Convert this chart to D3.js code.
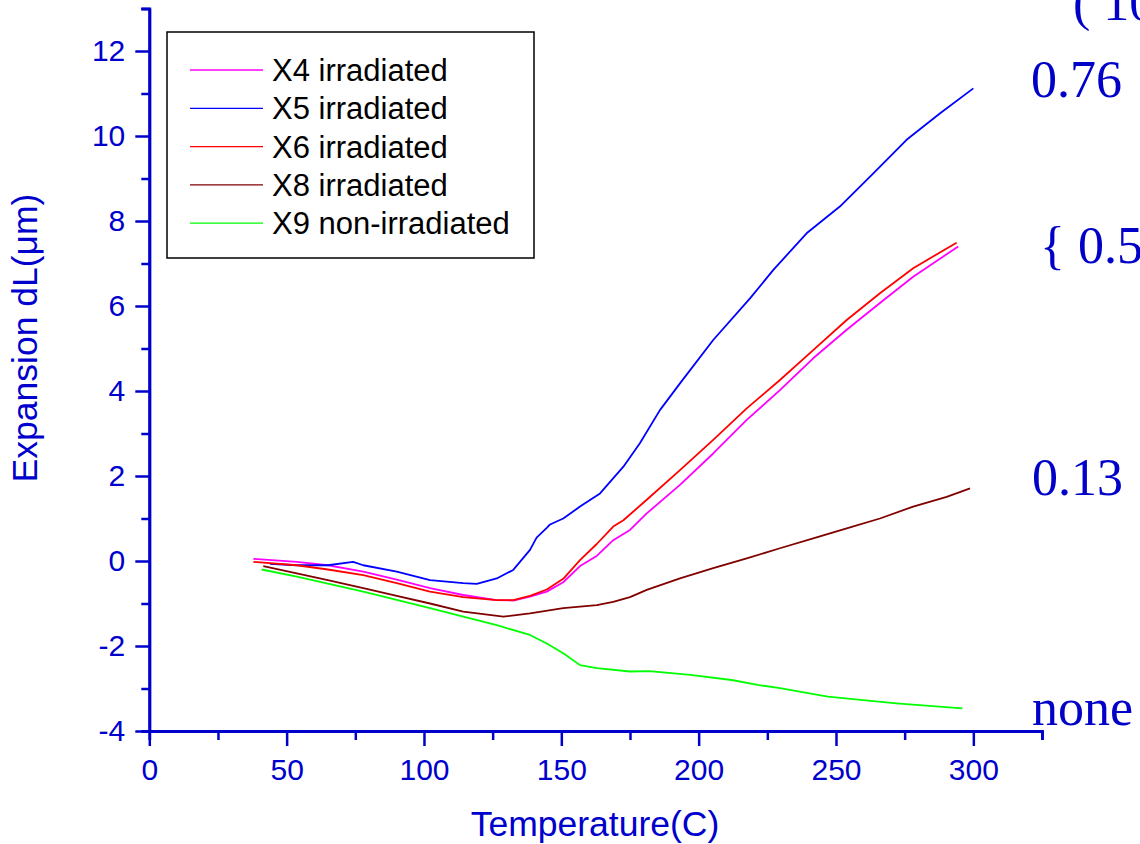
<!DOCTYPE html>
<html>
<head>
<meta charset="utf-8">
<script src="https://cdn.jsdelivr.net/npm/d3@7"></script>
<style>
  html, body { margin: 0; padding: 0; background: #fff; overflow: hidden; }
  svg { display: block; }
</style>
</head>
<body>
<svg id="chart" width="1140" height="844"></svg>
<script>
// Thermal expansion dL (µm) versus temperature (°C) for several samples.

const seriesNames = ["X4 irradiated", "X5 irradiated", "X6 irradiated", "X8 irradiated", "X9 non-irradiated"];
const seriesColors = ["#ff00ff", "#0000ff", "#ff0000", "#800000", "#00ff00"];

// [temperature, expansion]
const x4 = [
  [37.9, 0.05], [53.7, -0.02], [65, -0.1], [77.9, -0.25], [90.1, -0.44], [102.2, -0.64],
  [114.3, -0.8], [126.5, -0.92], [132.5, -0.93], [138.6, -0.84], [144.7, -0.72], [150.7, -0.5],
  [156.8, -0.12], [162.9, 0.12], [168.9, 0.49], [175.0, 0.73], [181.1, 1.12], [193.2, 1.79],
  [205.3, 2.53], [217.5, 3.32], [229.6, 4.02], [241.7, 4.77], [253.9, 5.44], [266.0, 6.07],
  [278.1, 6.69], [294.5, 7.4]
];
const x5 = [
  [43.9, -0.07], [53.7, -0.1], [65, -0.1], [74.2, -0.02], [77.9, -0.1], [90.1, -0.25],
  [102.2, -0.45], [114.3, -0.52], [119.2, -0.54], [126.5, -0.41], [132.5, -0.21], [138.6, 0.26],
  [141.0, 0.55], [144.7, 0.78], [145.9, 0.86], [150.7, 1.0], [156.8, 1.28], [164.1, 1.59],
  [172.6, 2.22], [178.6, 2.77], [185.9, 3.55], [193.2, 4.18], [205.3, 5.2], [218.7, 6.18],
  [227.2, 6.85], [239.3, 7.71], [251.4, 8.34], [263.6, 9.12], [275.7, 9.91], [287.8, 10.53],
  [300.0, 11.12]
];
const x6 = [
  [37.9, -0.02], [53.7, -0.1], [65, -0.2], [77.9, -0.33], [90.1, -0.52], [102.2, -0.72],
  [114.3, -0.85], [126.5, -0.92], [132.5, -0.92], [138.6, -0.82], [144.7, -0.67], [150.7, -0.42],
  [156.8, 0.02], [162.9, 0.4], [168.9, 0.81], [172.6, 0.96], [181.1, 1.44], [193.2, 2.14],
  [205.3, 2.85], [217.5, 3.59], [229.6, 4.26], [241.7, 4.96], [253.9, 5.67], [266.0, 6.3],
  [278.1, 6.89], [293.9, 7.49]
];
const x8 = [
  [41.5, -0.12], [53.7, -0.29], [65, -0.45], [77.9, -0.64], [90.1, -0.82], [102.2, -1.0],
  [114.3, -1.19], [128.9, -1.31], [138.6, -1.23], [150.7, -1.11], [162.9, -1.04], [168.9, -0.96],
  [175.0, -0.85], [181.1, -0.68], [193.2, -0.41], [205.3, -0.17], [217.5, 0.06], [229.6, 0.3],
  [241.7, 0.53], [253.9, 0.77], [266.0, 1.0], [278.1, 1.28], [290.3, 1.51], [298.8, 1.71]
];
const x9 = [
  [40.9, -0.2], [53.7, -0.37], [77.9, -0.72], [102.2, -1.11], [114.3, -1.31], [126.5, -1.51],
  [138.6, -1.74], [144.7, -1.94], [150.7, -2.17], [156.8, -2.45], [162.9, -2.52], [175.0, -2.6],
  [182, -2.59], [197, -2.68], [212, -2.8], [222, -2.92], [229.6, -2.99], [247, -3.19],
  [272, -3.35], [296, -3.47]
];

const xMajorTicks = [0, 50, 100, 150, 200, 250, 300];
const xMinorTicks = [25, 75, 125, 175, 225, 275, 325];
const yMajorTicks = [-4, -2, 0, 2, 4, 6, 8, 10, 12];
const yMinorTicks = [-3, -1, 1, 3, 5, 7, 9, 11, 13];

const sideLabels = [
  { text: "( 10", value: 12.74, x: 1073 },
  { text: "0.76", value: 10.92, x: 1031 },
  { text: "{ 0.5", value: 7.01, x: 1040 },
  { text: "0.13", value: 1.55, x: 1032 },
  { text: "none", value: -3.86, x: 1032 }
];

const axisBlue = "#0000cc";
const sans = "'Liberation Sans', Arial, sans-serif";
const svg = d3.select("#chart");
svg.append("rect").attr("width", 1140).attr("height", 844).attr("fill", "#fff");

const x = d3.scaleLinear().domain([0, 325]).range([149.3, 1042]);
const y = d3.scaleLinear().domain([-4, 13]).range([731, 8.5]);

// curves
const line = d3.line().x(d => x(d[0])).y(d => y(d[1]));
const allSeries = [x4, x5, x6, x8, x9];
allSeries.forEach((s, i) => {
  svg.append("path")
    .datum(s)
    .attr("d", line)
    .attr("fill", "none")
    .attr("stroke", seriesColors[i])
    .attr("stroke-width", 1.8)
    .attr("stroke-linejoin", "round");
});

// axes
function styleAxis(g) {
  g.select(".domain").attr("stroke", axisBlue).attr("stroke-width", 2.8);
  g.selectAll(".tick line").attr("stroke", axisBlue).attr("stroke-width", 2.5);
  g.selectAll("text").attr("fill", axisBlue)
    .attr("font-family", sans)
    .attr("font-size", 30);
}
const plainNumber = d => String(d);

const gxMinor = svg.append("g").attr("transform", `translate(0,${y(-4)})`)
  .call(d3.axisBottom(x).tickValues(xMinorTicks).tickSize(9).tickFormat(""));
styleAxis(gxMinor);
const gx = svg.append("g").attr("transform", `translate(0,${y(-4)})`)
  .call(d3.axisBottom(x).tickValues(xMajorTicks).tickSize(15).tickSizeOuter(0).tickFormat(plainNumber));
styleAxis(gx);
gx.selectAll("text").attr("y", 49).attr("dy", null);

const gyMinor = svg.append("g").attr("transform", `translate(${x(0)},0)`)
  .call(d3.axisLeft(y).tickValues(yMinorTicks).tickSize(8).tickFormat(""));
styleAxis(gyMinor);
const gy = svg.append("g").attr("transform", `translate(${x(0)},0)`)
  .call(d3.axisLeft(y).tickValues(yMajorTicks).tickSize(14).tickSizeOuter(0).tickFormat(plainNumber));
styleAxis(gy);
gy.selectAll("text").attr("x", -24);

// axis titles
svg.append("text")
  .attr("x", 595).attr("y", 836)
  .attr("text-anchor", "middle")
  .attr("font-family", sans)
  .attr("font-size", 35.5)
  .attr("fill", axisBlue)
  .text("Temperature(C)");

svg.append("text")
  .attr("transform", "translate(37,338) rotate(-90)")
  .attr("text-anchor", "middle")
  .attr("font-family", sans)
  .attr("font-size", 35.5)
  .attr("fill", axisBlue)
  .text("Expansion dL(\u03bcm)");

// legend
const legend = svg.append("g");
legend.append("rect")
  .attr("x", 167).attr("y", 32).attr("width", 367).attr("height", 226)
  .attr("fill", "#fff").attr("stroke", "#000").attr("stroke-width", 1.5);
seriesNames.forEach((name, i) => {
  const cy = 70 + i * 38.3;
  legend.append("line")
    .attr("x1", 190).attr("x2", 263).attr("y1", cy).attr("y2", cy)
    .attr("stroke", seriesColors[i]).attr("stroke-width", 1.3);
  legend.append("text")
    .attr("x", 272).attr("y", cy + 11)
    .attr("font-family", sans)
    .attr("font-size", 31)
    .attr("fill", "#000")
    .text(name);
});

// dose annotations along the right edge
sideLabels.forEach(d => {
  svg.append("text")
    .attr("x", d.x).attr("y", y(d.value))
    .attr("font-family", "'Liberation Serif', 'Times New Roman', serif")
    .attr("font-size", 52)
    .attr("fill", "#0000c8")
    .text(d.text);
});
</script>
</body>
</html>
